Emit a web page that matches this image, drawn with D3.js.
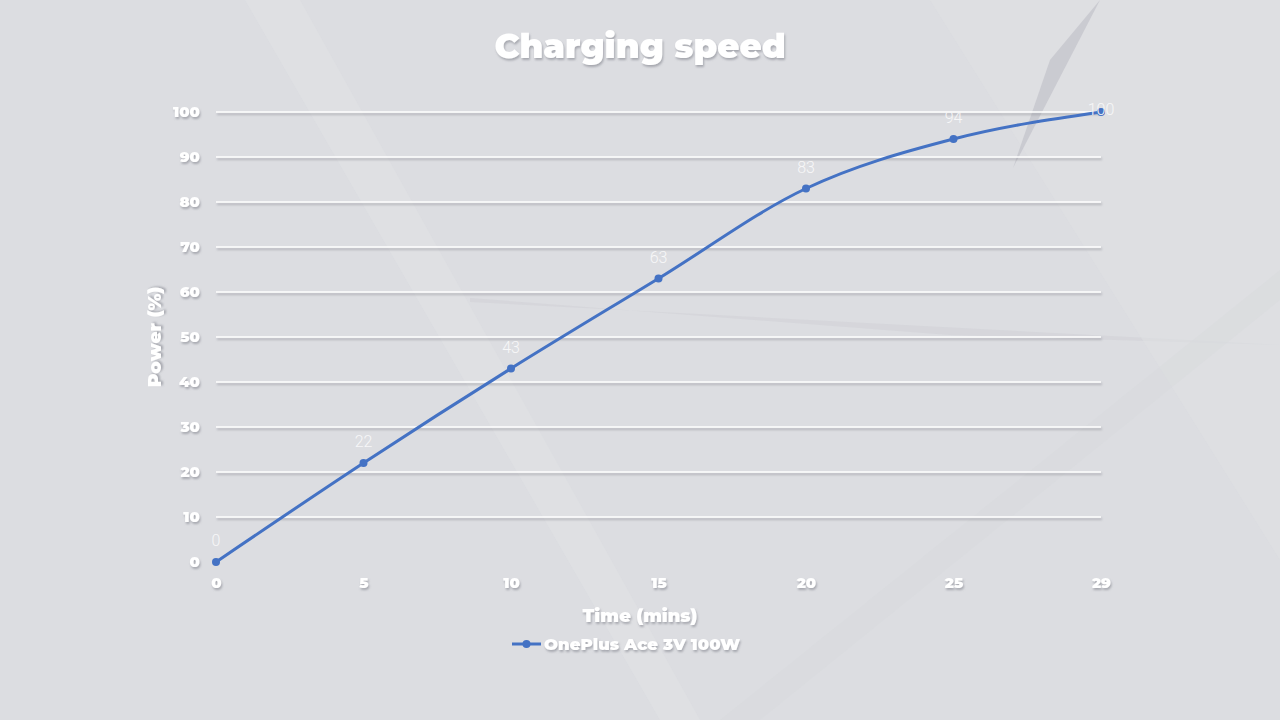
<!DOCTYPE html>
<head>
  <title>Charging speed</title>
  <style>
    body { margin: 0; background: #dcdde1; }
    text { font-family: "Montserrat", Inter, "Noto Sans", sans-serif; }
  </style>
</head>
<body>
  <script src="https://cdn.jsdelivr.net/npm/d3@7"></script>
  <script>
    // data
    var times = ["0", "5", "10", "15", "20", "25", "29"];
    var power = [0, 22, 43, 63, 83, 94, 100];
    var yTicks = [0, 10, 20, 30, 40, 50, 60, 70, 80, 90, 100];
    var seriesName = "OnePlus Ace 3V 100W";

    var w = 1280, h = 720;
    var plotLeft = 216, plotRight = 1101, plotTop = 112, plotBottom = 562;

    var svg = d3.select("body").append("svg")
        .attr("width", w)
        .attr("height", h);

    var defs = svg.append("defs");
    var sh = defs.append("filter").attr("id", "shadow")
        .attr("x", "-20%").attr("y", "-40%").attr("width", "140%").attr("height", "200%");
    sh.append("feDropShadow").attr("dx", 1).attr("dy", 2).attr("stdDeviation", 1.2)
        .attr("flood-color", "#7a7c85").attr("flood-opacity", 0.55);

    // background
    svg.append("rect").attr("width", w).attr("height", h).attr("fill", "#dcdde1");
    var deco = [
      { pts: [[245, 0], [300, 0], [700, 720], [660, 720]], fill: "#e2e3e6", op: 0.5 },
      { pts: [[470, 298], [950, 335], [1280, 345], [470, 302]], fill: "#cfd0d5", op: 0.5 },
      { pts: [[930, 0], [1280, 0], [1280, 560]], fill: "#e0e1e4", op: 0.5 },
      { pts: [[1050, 60], [1100, 0], [1013, 168]], fill: "#b9bac2", op: 0.55 },
      { pts: [[720, 720], [760, 720], [1280, 300], [1280, 270]], fill: "#d8d9dd", op: 0.4 }
    ];
    svg.selectAll("polygon.deco").data(deco).enter().append("polygon")
        .attr("class", "deco")
        .attr("points", function(d) { return d.pts.map(function(p) { return p.join(","); }).join(" "); })
        .attr("fill", function(d) { return d.fill; })
        .attr("opacity", function(d) { return d.op; });

    var x = d3.scalePoint().domain(times).range([plotLeft, plotRight]);
    var y = d3.scaleLinear().domain([0, 100]).range([plotBottom, plotTop]);

    // gridlines
    svg.append("g")
        .attr("filter", "url(#shadow)")
        .selectAll("line").data(yTicks.slice(1)).enter().append("line")
        .attr("x1", plotLeft).attr("x2", plotRight)
        .attr("y1", function(d) { return y(d); })
        .attr("y2", function(d) { return y(d); })
        .attr("stroke", "#ffffff").attr("stroke-width", 1.5);

    // y axis
    var yAxis = d3.axisLeft(y).tickValues(yTicks).tickSize(0).tickPadding(16);
    var gy = svg.append("g")
        .attr("transform", "translate(" + plotLeft + ",0)")
        .call(yAxis);
    gy.select(".domain").remove();
    gy.selectAll("text")
        .attr("fill", "#ffffff").attr("font-size", 15).attr("font-weight", 900)
        .attr("filter", "url(#shadow)");

    // x axis
    var xAxis = d3.axisBottom(x).tickSize(0).tickPadding(15);
    var gx = svg.append("g")
        .attr("transform", "translate(0," + plotBottom + ")")
        .call(xAxis);
    gx.select(".domain").remove();
    gx.selectAll("text")
        .attr("fill", "#ffffff").attr("font-size", 15).attr("font-weight", 900)
        .attr("filter", "url(#shadow)");

    // line
    var data = times.map(function(t, i) { return { t: t, v: power[i] }; });
    var line = d3.line()
        .x(function(d) { return x(d.t); })
        .y(function(d) { return y(d.v); })
        .curve(d3.curveMonotoneX);

    svg.append("path").datum(data)
        .attr("d", line)
        .attr("fill", "none")
        .attr("stroke", "#4472c4")
        .attr("stroke-width", 3);

    svg.selectAll("circle.pt").data(data).enter().append("circle")
        .attr("class", "pt")
        .attr("cx", function(d) { return x(d.t); })
        .attr("cy", function(d) { return y(d.v); })
        .attr("r", 4)
        .attr("fill", "#4472c4");

    // data labels
    svg.selectAll("text.lbl").data(data).enter().append("text")
        .attr("class", "lbl")
        .attr("x", function(d) { return x(d.t); })
        .attr("y", function(d) { return Math.max(y(d.v) - 16, plotTop + 3); })
        .attr("text-anchor", "middle")
        .attr("font-weight", 300)
        .attr("font-size", 16)
        .attr("fill", "#f7f7f8")
        .style("font-family", "Roboto, sans-serif")
        .text(function(d) { return d.v; });

    // title
    svg.append("text")
        .attr("x", 640).attr("y", 58)
        .attr("text-anchor", "middle")
        .attr("font-size", 34).attr("font-weight", 900)
        .attr("fill", "#ffffff")
        .attr("filter", "url(#shadow)")
        .text("Charging speed");

    // axis titles
    svg.append("text")
        .attr("transform", "translate(161," + ((plotTop + plotBottom) / 2) + ") rotate(-90)")
        .attr("text-anchor", "middle")
        .attr("font-size", 18.5).attr("font-weight", 900)
        .attr("fill", "#ffffff")
        .attr("filter", "url(#shadow)")
        .text("Power (%)");

    svg.append("text")
        .attr("x", 640).attr("y", 622)
        .attr("text-anchor", "middle")
        .attr("font-size", 18).attr("font-weight", 900)
        .attr("fill", "#ffffff")
        .attr("filter", "url(#shadow)")
        .text("Time (mins)");

    // legend
    var lg = svg.append("g").attr("transform", "translate(512,644)");
    lg.append("line").attr("x1", 0).attr("x2", 29).attr("y1", 0).attr("y2", 0)
        .attr("stroke", "#4472c4").attr("stroke-width", 3);
    lg.append("circle").attr("cx", 14.5).attr("cy", 0).attr("r", 4).attr("fill", "#4472c4");
    lg.append("text").attr("x", 32).attr("y", 6)
        .attr("font-size", 16.5).attr("font-weight", 900)
        .attr("fill", "#ffffff")
        .attr("filter", "url(#shadow)")
        .text(seriesName);
  </script>
</body>
